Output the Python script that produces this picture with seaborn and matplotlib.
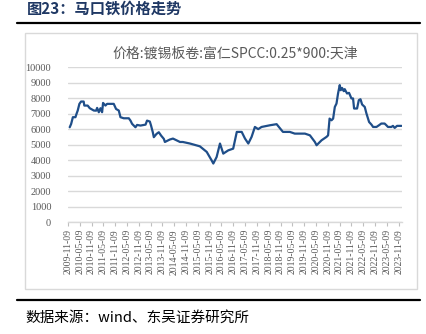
import matplotlib
matplotlib.use("Agg")
import matplotlib.pyplot as plt
import matplotlib.dates as mdates
from matplotlib.lines import Line2D
from matplotlib.patches import Rectangle
import pandas as pd
import seaborn as sns

# Tinplate coil price, Tianjin (yuan/ton)
dates = [
    "2009-12-05", "2009-12-27", "2010-01-23", "2010-03-04", "2010-03-20", "2010-04-08",
    "2010-05-04", "2010-05-30", "2010-07-09", "2010-07-19", "2010-09-09", "2010-10-11",
    "2010-12-13", "2011-01-18", "2011-02-02", "2011-02-28", "2011-03-26", "2011-04-20",
    "2011-05-05", "2011-06-11", "2011-07-06", "2011-09-22", "2011-10-17", "2011-11-22",
    "2012-01-03", "2012-01-29", "2012-03-20", "2012-06-06", "2012-07-02", "2012-07-27",
    "2012-09-17", "2012-10-12", "2012-12-04", "2013-02-20", "2013-03-15", "2013-04-27",
    "2013-05-16", "2013-06-12", "2013-06-28", "2013-08-08", "2013-09-13", "2013-10-19",
    "2013-11-30", "2013-12-16", "2014-03-03", "2014-04-20", "2014-08-07", "2014-09-20",
    "2015-01-08", "2015-06-10", "2015-09-24", "2015-12-08", "2016-01-04", "2016-02-24",
    "2016-04-16", "2016-06-06", "2016-08-22", "2016-11-06", "2017-01-01", "2017-03-18",
    "2017-05-08", "2017-06-28", "2017-08-18", "2017-10-08", "2017-11-28", "2018-01-19",
    "2018-05-30", "2018-09-09", "2018-11-24", "2018-12-16", "2019-04-01", "2019-06-17",
    "2019-11-21", "2020-02-06", "2020-04-23", "2020-05-19", "2020-08-04", "2020-10-20",
    "2020-11-13", "2020-12-06", "2021-01-05", "2021-01-30", "2021-02-25", "2021-03-23",
    "2021-04-16", "2021-05-12", "2021-05-28", "2021-06-17", "2021-07-13", "2021-07-28",
    "2021-09-02", "2021-10-03", "2021-11-09", "2021-12-04", "2021-12-20", "2022-02-04",
    "2022-03-03", "2022-03-29", "2022-04-23", "2022-06-03", "2022-06-29", "2022-08-09",
    "2022-09-15", "2022-10-10", "2022-12-01", "2023-01-09", "2023-02-14", "2023-04-06",
    "2023-05-03", "2023-05-28", "2023-07-19", "2023-08-13", "2023-09-09", "2023-10-15",
    "2023-12-23",
]
prices = [
    6120, 6330, 6770, 6770, 6980, 7200,
    7630, 7780, 7780, 7520, 7520, 7350,
    7200, 7190, 7370, 7090, 7350, 7090,
    7690, 7520, 7630, 7630, 7630, 7300,
    7200, 6770, 6700, 6700, 6550, 6340,
    6120, 6270, 6230, 6290, 6550, 6490,
    6230, 5800, 5480, 5690, 5800, 5580,
    5370, 5170, 5330, 5390, 5170, 5170,
    5070, 4890, 4530, 3990, 3780, 4200,
    5070, 4420, 4630, 4740, 5820, 5820,
    5390, 5070, 5500, 6140, 6000, 6140,
    6250, 6320, 5930, 5820, 5820, 5710,
    5710, 5600, 5170, 4960, 5280, 5500,
    5600, 6680, 6570, 6680, 7430, 7650,
    8300, 8840, 8510, 8660, 8450, 8580,
    8300, 8340, 7980, 7980, 7330, 7330,
    7870, 7930, 7590, 7430, 7010, 6460,
    6290, 6140, 6140, 6250, 6360, 6360,
    6250, 6140, 6140, 6210, 6080, 6210,
    6210,
]
y_ticks = [0, 1000, 2000, 3000, 4000, 5000, 6000, 7000, 8000, 9000, 10000]
x_tick_dates = pd.date_range("2009-11-09", "2023-11-09", freq=pd.DateOffset(months=6))

fig_title = "图23：马口铁价格走势"
chart_title = "价格:镀锡板卷:富仁SPCC:0.25*900:天津"
source_note = "数据来源：wind、东吴证券研究所"

sns.set_theme(style="white")
plt.rcParams["font.family"] = ["Liberation Serif", "Noto Sans CJK SC", "DejaVu Sans"]

df = pd.DataFrame({"date": pd.to_datetime(dates), "price": prices})

fig = plt.figure(figsize=(4.27, 3.34), dpi=100)
ax = fig.add_axes([0.159, 0.335, 0.782, 0.464])

sns.lineplot(data=df, x="date", y="price", ax=ax, color="#1F4E89", linewidth=1.6)

ax.set_ylim(0, 10000)
ax.set_yticks(y_ticks)
ax.set_xlim(pd.Timestamp("2009-11-07"), pd.Timestamp("2023-12-28"))
ax.set_xticks(x_tick_dates)
ax.xaxis.set_major_formatter(mdates.DateFormatter("%Y-%m-%d"))
ax.set_xlabel("")
ax.set_ylabel("")

ax.grid(axis="y", color="#d9d9d9", linewidth=1.0)
ax.grid(axis="x", visible=False)
for side in ("left", "right", "top"):
    ax.spines[side].set_visible(False)
ax.spines["bottom"].set_color("#d9d9d9")
ax.spines["bottom"].set_linewidth(1.0)

ax.tick_params(axis="x", bottom=True, length=3, width=0.8, color="#bfbfbf",
               labelsize=7, labelcolor="#595959", rotation=90, pad=2)
ax.tick_params(axis="y", left=False, labelsize=7.5, labelcolor="#595959", pad=6)
for lab in ax.get_xticklabels() + ax.get_yticklabels():
    lab.set_family("Liberation Serif")

ax.set_title(chart_title, fontsize=10, color="#595959", pad=7,
             family=["Noto Sans CJK SC", "DejaVu Sans"])

# Chart frame
fig.add_artist(Rectangle((25 / 427, 1 - 289 / 334), (417 - 25) / 427, (289 - 33) / 334,
                         transform=fig.transFigure, fill=False,
                         edgecolor="#d9d9d9", linewidth=1.0))

# Header and footer rules
fig.add_artist(Line2D([17 / 427, 420 / 427], [1 - 22.5 / 334] * 2,
                      transform=fig.transFigure, color="black", linewidth=1.6))
fig.add_artist(Line2D([17 / 427, 420 / 427], [1 - 300 / 334] * 2,
                      transform=fig.transFigure, color="black", linewidth=1.6))

fig.text(27 / 427, 1 - 9 / 334, fig_title, fontsize=11, fontweight="bold",
         color="#1F3864", va="center", ha="left",
         family=["Noto Sans CJK SC", "DejaVu Sans"])
fig.text(25 / 427, 1 - 318 / 334, source_note, fontsize=10.5, color="black",
         va="center", ha="left", family=["Noto Sans CJK SC", "DejaVu Sans"])

fig.savefig("out.png", dpi=100)
